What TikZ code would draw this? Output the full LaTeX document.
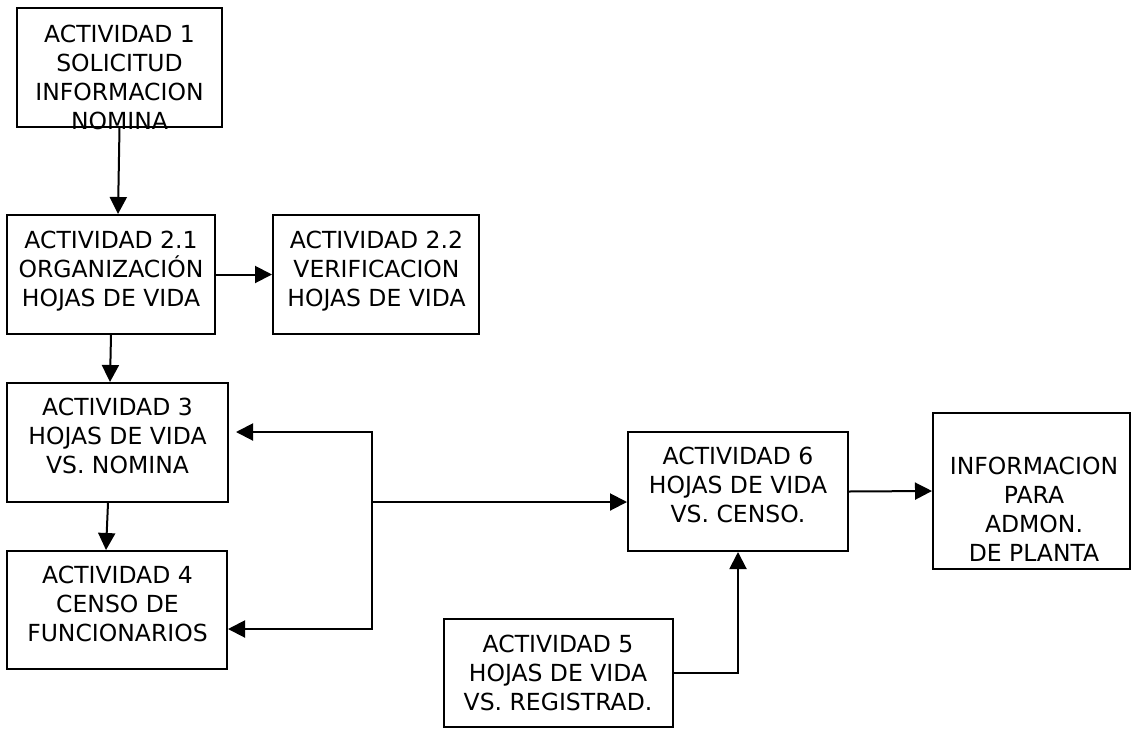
\documentclass[tikz,border=0pt]{standalone}
\usepackage{fontspec}
\setmainfont{DejaVu Sans}
\usetikzlibrary{arrows.meta,calc}
\tikzset{
  box/.style={draw=black, line width=2pt, inner sep=0pt, fill=white},
  txt/.style={align=center, inner sep=0pt, text depth=0pt, font=\fontsize{23.5pt}{29pt}\selectfont},
  arr/.style={line width=2pt, -{Triangle[length=17pt,width=17pt]}},
  ln/.style={line width=2pt}
}
\begin{document}
\begin{tikzpicture}[x=1pt,y=-1pt]
\useasboundingbox (0,0) rectangle (1131,728);
% boxes
\node[box, minimum width=205pt, minimum height=119pt] (b1) at (119.5,67.5) {};
\node[box, minimum width=208pt, minimum height=119pt] (b21) at (111,274.5) {};
\node[box, minimum width=206pt, minimum height=119pt] (b22) at (376,274.5) {};
\node[box, minimum width=221pt, minimum height=119pt] (b3) at (117.5,442.5) {};
\node[box, minimum width=220pt, minimum height=118pt] (b4) at (117,610) {};
\node[box, minimum width=220pt, minimum height=119pt] (b6) at (738,491.5) {};
\node[box, minimum width=197pt, minimum height=156pt] (info) at (1031.5,491) {};
\node[box, minimum width=229pt, minimum height=108pt] (b5) at (558.5,673) {};
% texts
\node[txt] (t1) at (119.5,77) {ACTIVIDAD 1\\SOLICITUD\\INFORMACION\\NOMINA};
\node[txt] (t21) at (111,268.5) {ACTIVIDAD 2.1\\ORGANIZACIÓN\\HOJAS DE VIDA};
\node[txt] (t22) at (376.5,268.5) {ACTIVIDAD 2.2\\VERIFICACION\\HOJAS DE VIDA};
\node[txt] (t3) at (117.5,436) {ACTIVIDAD 3\\HOJAS DE VIDA\\VS. NOMINA};
\node[txt] (t4) at (117.5,604) {ACTIVIDAD 4\\CENSO DE\\FUNCIONARIOS};
\node[txt] (t6) at (738,484.5) {ACTIVIDAD 6\\HOJAS DE VIDA\\VS. CENSO.};
\node[txt] (tinfo) at (1034,509) {INFORMACION\\PARA\\ADMON.\\DE PLANTA};
\node[txt] (t5) at (558,673) {ACTIVIDAD 5\\HOJAS DE VIDA\\VS. REGISTRAD.};
% connectors
\draw[arr] (b1.south) -- ([xshift=7pt]b21.north);
\draw[arr] (b21.east) -- (b22.west);
\draw[arr] (b21.south) -- ([xshift=-7.5pt]b3.north);
\draw[arr] ([xshift=-9.5pt]b3.south) -- ([xshift=-11pt]b4.north);
\coordinate (j) at (372,502);
\coordinate (k3) at (372,432);
\coordinate (k4) at (372,629);
\draw[arr] (j) -- (k3) -- ([xshift=7pt]k3 -| b3.east);
\draw[arr] (j) -- (k4) -- (k4 -| b4.east);
\draw[arr] (j) -- (j -| b6.west);
\draw[arr] (b6.east) -- (info.west);
\draw[arr] (b5.east) -| (b6.south);
\end{tikzpicture}
\end{document}
